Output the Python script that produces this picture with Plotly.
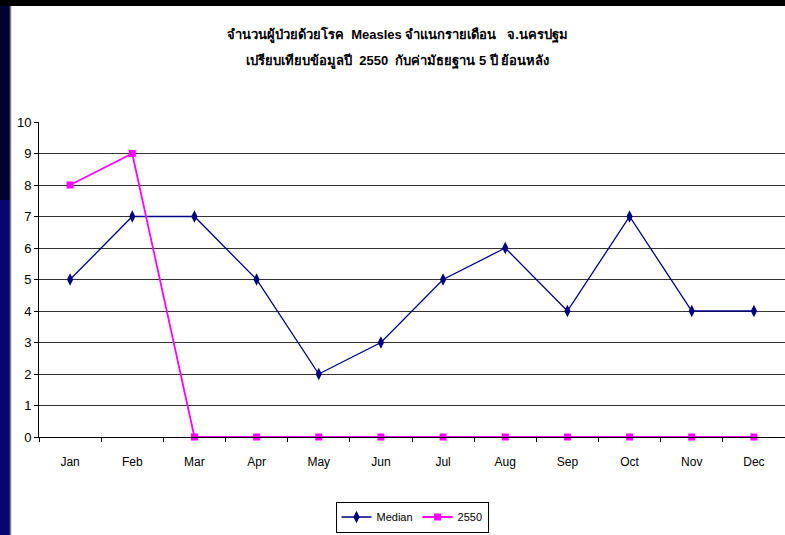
import plotly.graph_objects as go

months = ["Jan", "Feb", "Mar", "Apr", "May", "Jun", "Jul", "Aug", "Sep", "Oct", "Nov", "Dec"]
median_vals = [5, 7, 7, 5, 2, 3, 5, 6, 4, 7, 4, 4]
y2550_vals = [8, 9, 0, 0, 0, 0, 0, 0, 0, 0, 0, 0]
title_line1 = "จำนวนผู้ป่วยด้วยโรค  Measles จำแนกรายเดือน   จ.นครปฐม"
title_line2 = "เปรียบเทียบข้อมูลปี  2550  กับค่ามัธยฐาน 5 ปี ย้อนหลัง"

W, H = 785, 535
ML, MR, MT, MB = 39, 0, 122, 98
PW, PH = W - ML - MR, H - MT - MB

def px(x):
    return (x - ML) / PW

def py(y):
    return (H - MB - y) / PH

font_narrow = "Liberation Sans Narrow, Arial Narrow, Liberation Sans, sans-serif"

xs = list(range(len(months)))
fig = go.Figure()
fig.add_trace(go.Scatter(
    x=xs, y=median_vals, name="Median", mode="lines+markers",
    line=dict(color="#000080", width=1.3),
    marker=dict(symbol="diamond-tall", size=9, color="#000080"),
    cliponaxis=False,
))
fig.add_trace(go.Scatter(
    x=xs, y=y2550_vals, name="2550", mode="lines+markers",
    line=dict(color="#FF00FF", width=1.8),
    marker=dict(symbol="square", size=7, color="#FF00FF"),
    cliponaxis=False,
))

shapes = [
    dict(type="rect", xref="paper", yref="paper", x0=px(0), x1=px(W), y0=py(H), y1=py(0),
         fillcolor="white", line=dict(width=0), layer="below"),
    dict(type="rect", xref="paper", yref="paper", x0=px(0), x1=px(10), y0=py(H), y1=py(0),
         fillcolor="#06066e", line=dict(width=0), layer="below"),
    dict(type="rect", xref="paper", yref="paper", x0=px(0), x1=px(10), y0=py(200), y1=py(0),
         fillcolor="#020230", line=dict(width=0), layer="below"),
    dict(type="line", xref="paper", yref="paper", x0=px(10.5), x1=px(10.5), y0=py(H), y1=py(6),
         line=dict(color="#808080", width=1.5), layer="below"),
    dict(type="rect", xref="paper", yref="paper", x0=px(0), x1=px(W), y0=py(6), y1=py(0),
         fillcolor="black", line=dict(width=0), layer="below"),
]

fig.update_layout(
    width=W, height=H,
    margin=dict(l=ML, r=MR, t=MT, b=MB),
    paper_bgcolor="white", plot_bgcolor="rgba(0,0,0,0)",
    shapes=shapes,
    showlegend=True,
    legend=dict(
        orientation="h", x=px(412), y=py(517), xanchor="center", yanchor="middle",
        bordercolor="black", borderwidth=1, bgcolor="white",
        font=dict(family=font_narrow, size=11, color="black"),
        itemwidth=30, tracegroupgap=0,
    ),
    annotations=[
        dict(text="<b>" + title_line1 + "</b>", xref="paper", yref="paper",
             x=px(397), y=py(35), xanchor="center", yanchor="middle", showarrow=False,
             font=dict(family=font_narrow, size=13, color="black")),
        dict(text="<b>" + title_line2 + "</b>", xref="paper", yref="paper",
             x=px(397), y=py(61), xanchor="center", yanchor="middle", showarrow=False,
             font=dict(family=font_narrow, size=13, color="black")),
    ],
    xaxis=dict(
        range=[-0.5, 11.5], tickmode="array", tickvals=xs, ticktext=months,
        ticks="", showgrid=False, zeroline=False,
        showline=True, linecolor="black", linewidth=1,
        tickfont=dict(family=font_narrow, size=12, color="black"),
        ticklabelstandoff=14,
        minor=dict(ticks="outside", tickmode="array",
                   tickvals=[i - 0.5 for i in range(len(months) + 1)],
                   ticklen=4, tickcolor="black", tickwidth=1, showgrid=False),
        fixedrange=True,
    ),
    yaxis=dict(
        range=[0, 10], tickmode="linear", tick0=0, dtick=1,
        ticks="outside", ticklen=4, tickcolor="black",
        showgrid=True, gridcolor="#333333", gridwidth=1, zeroline=False,
        showline=True, linecolor="black", linewidth=1,
        tickfont=dict(family=font_narrow, size=13, color="black"),
        fixedrange=True,
    ),
)

fig.write_html("out.html", config={"displayModeBar": False},
               post_script="document.body.style.margin='0';document.body.style.overflow='hidden';")
